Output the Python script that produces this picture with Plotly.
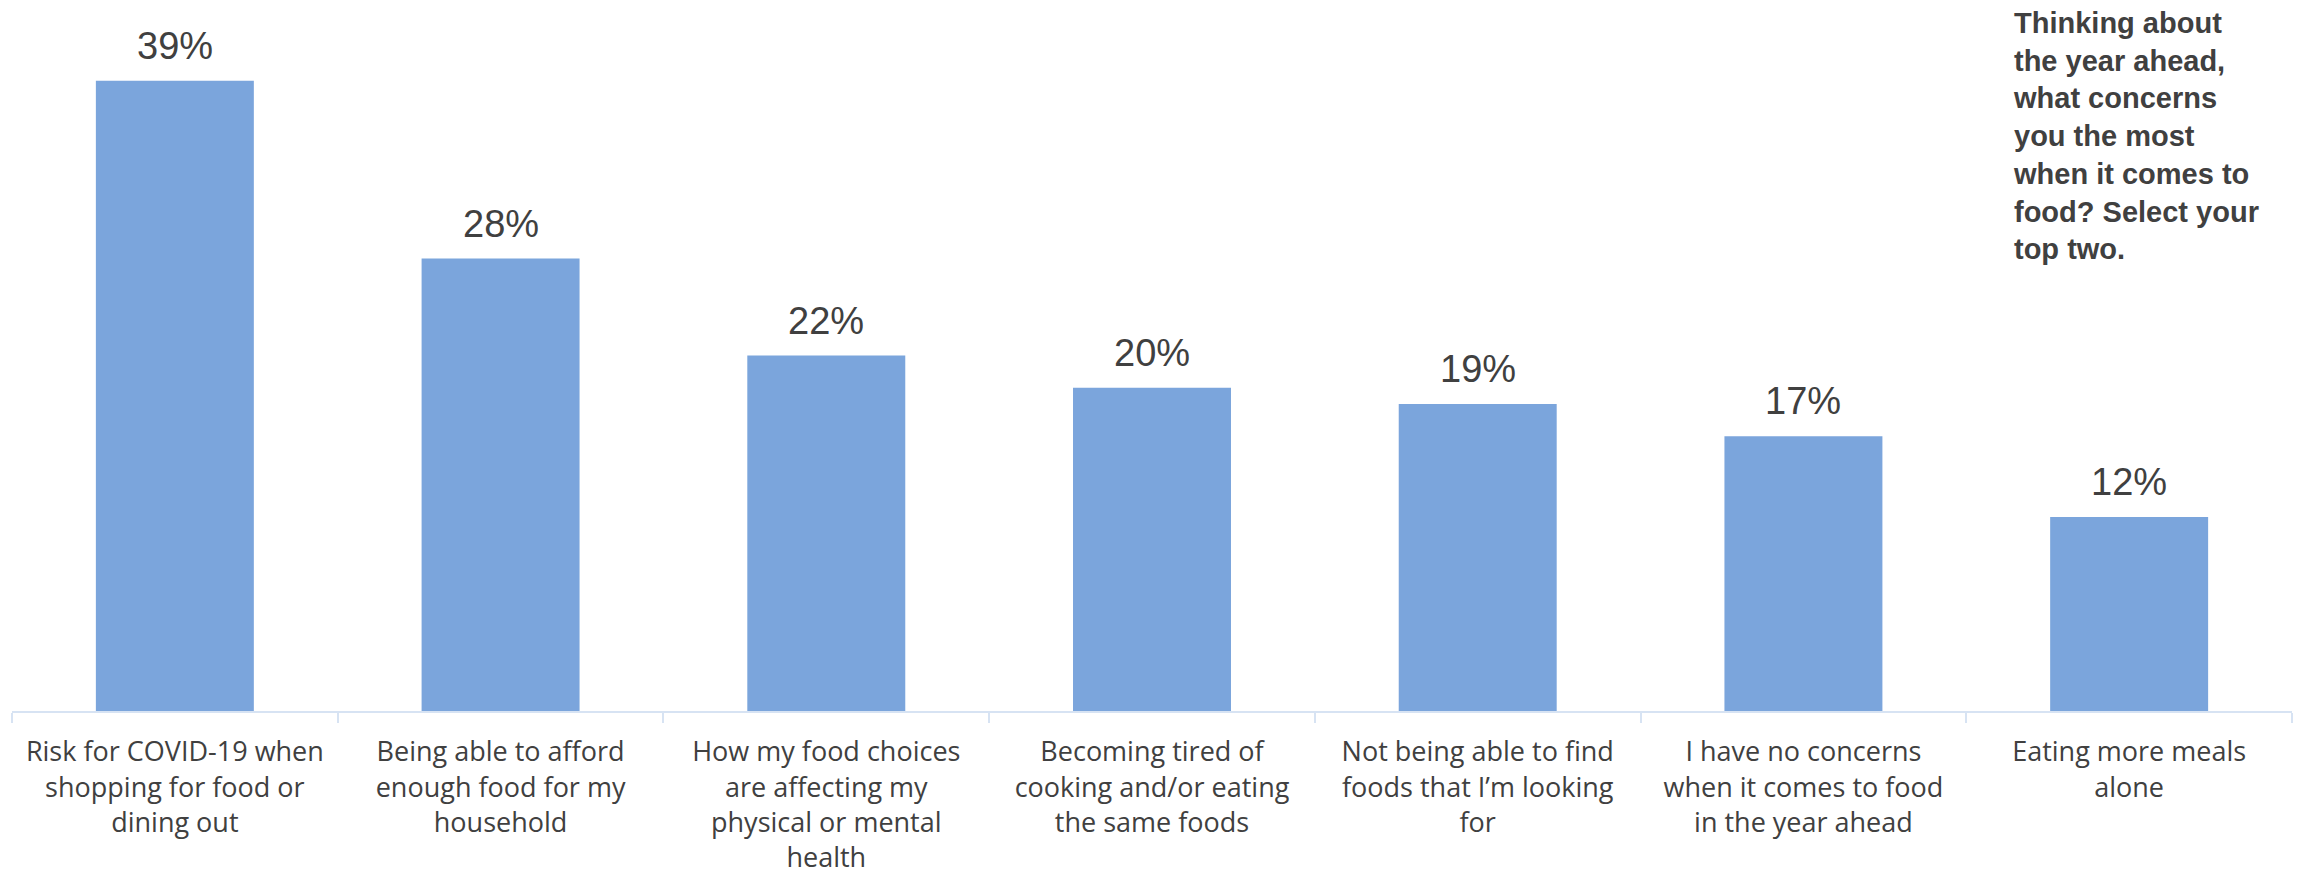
import plotly.graph_objects as go

# Survey responses: top food concerns for the year ahead
categories = [
    "Risk for COVID-19 when<br>shopping for food or<br>dining out",
    "Being able to afford<br>enough food for my<br>household",
    "How my food choices<br>are affecting my<br>physical or mental<br>health",
    "Becoming tired of<br>cooking and/or eating<br>the same foods",
    "Not being able to find<br>foods that I’m looking<br>for",
    "I have no concerns<br>when it comes to food<br>in the year ahead",
    "Eating more meals<br>alone",
]
shares = [39, 28, 22, 20, 19, 17, 12]
value_labels = [f"{v}%" for v in shares]
question = ("Thinking about<br>the year ahead,<br>what concerns<br>you the most<br>"
            "when it comes to<br>food? Select your<br>top two.")

TEXT = "#404040"
BAR = "#7BA5DC"
AXIS = "#D7E3F3"

fig = go.Figure(go.Bar(
    x=categories,
    y=shares,
    marker=dict(color=BAR, line=dict(width=0)),
    hoverinfo="skip",
))

# percentage labels above each bar
for cat, val, lab in zip(categories, shares, value_labels):
    fig.add_annotation(
        x=cat, y=val, text=lab, showarrow=False,
        xref="x", yref="y", yanchor="bottom", yshift=12,
        font=dict(family="Liberation Sans, Arial, sans-serif", size=38, color=TEXT),
    )

# question text in the upper right
fig.add_annotation(
    x=(2011 - 12) / 2280, y=1.0, xref="paper", yref="paper",
    xanchor="left", yanchor="top", align="left", showarrow=False,
    yshift=-5,
    text=question,
    font=dict(family="Liberation Sans, Arial, sans-serif", size=29, color=TEXT, weight="bold"),
)

fig.update_layout(
    width=2300, height=875,
    margin=dict(l=12, r=8, t=0, b=164),
    paper_bgcolor="white", plot_bgcolor="white",
    bargap=0.515,
    showlegend=False,
    xaxis=dict(
        showline=True, linecolor=AXIS, linewidth=2,
        ticks="outside", tickson="boundaries", ticklen=10,
        tickcolor=AXIS, tickwidth=2, tickangle=0, automargin=False,
        ticklabelstandoff=16,
        tickfont=dict(family="Open Sans, Liberation Sans, sans-serif", size=27, color=TEXT),
        showgrid=False, zeroline=False, fixedrange=True,
    ),
    yaxis=dict(
        range=[0, 44], visible=False, showgrid=False, zeroline=False,
        fixedrange=True, automargin=False,
    ),
)

fig.write_html("out.html", config={"displayModeBar": False})
